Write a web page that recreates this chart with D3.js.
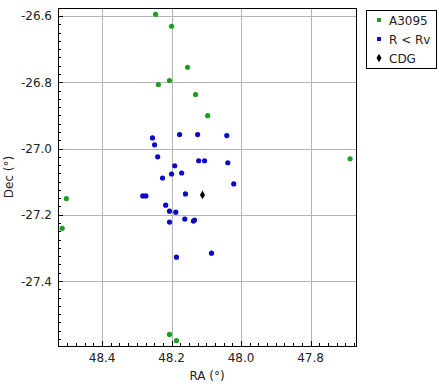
<!DOCTYPE html>
<html>
<head>
<meta charset="utf-8">
<script src="https://cdn.jsdelivr.net/npm/d3@7"></script>
<style>
  body { margin: 0; background: white; }
  text { font-family: "DejaVu Sans", sans-serif; }
</style>
</head>
<body>
<div id="chart"></div>
<script>
// A3095 members
var a3095RA  = [48.246, 48.200, 48.154, 48.238, 48.206, 48.131, 48.096, 48.503, 48.515, 48.206, 48.186, 47.686];
var a3095Dec = [-26.595, -26.631, -26.755, -26.807, -26.795, -26.837, -26.901, -27.151, -27.241, -27.561, -27.580, -27.031];

// galaxies inside virial radius
var rvRA  = [48.255, 48.249, 48.177, 48.125, 48.240, 48.122, 48.105, 48.191, 48.200, 48.171, 48.226, 48.160,
             48.283, 48.274, 48.041, 48.038, 48.021, 48.217, 48.206, 48.188, 48.206, 48.162, 48.137, 48.134,
             48.186, 48.085];
var rvDec = [-26.968, -26.989, -26.958, -26.958, -27.025, -27.037, -27.037, -27.052, -27.077, -27.074, -27.089, -27.137,
             -27.143, -27.143, -26.961, -27.043, -27.107, -27.171, -27.189, -27.192, -27.222, -27.213, -27.219, -27.216,
             -27.328, -27.316];

// central dominant galaxy
var cdgRA  = [48.111];
var cdgDec = [-27.140];

var xTicks = [48.4, 48.2, 48.0, 47.8];
var yTicks = [-26.6, -26.8, -27.0, -27.2, -27.4];
var seriesNames = ['A3095', 'R < Rv', 'CDG'];
var seriesColors = ['#1e9e1e', '#0a0ac8', '#000000'];

var svgWidth = 439, svgHeight = 386;
var plotLeft = 58, plotRight = 356, plotTop = 8, plotBottom = 346;

var svg = d3.select('#chart').append('svg')
    .attr('width', svgWidth)
    .attr('height', svgHeight)
    .style('background', 'white');

var x = d3.scaleLinear().domain([48.527, 47.669]).range([plotLeft, plotRight]);
var y = d3.scaleLinear().domain([-26.576, -27.596]).range([plotTop, plotBottom]);

//grid lines
svg.append('g').selectAll('line').data(xTicks).enter().append('line')
    .attr('x1', d => Math.round(x(d)) + 0.5).attr('x2', d => Math.round(x(d)) + 0.5)
    .attr('y1', plotTop).attr('y2', plotBottom)
    .attr('stroke', '#b4b4b4').attr('stroke-width', 1);
svg.append('g').selectAll('line').data(yTicks).enter().append('line')
    .attr('y1', d => Math.round(y(d)) + 0.5).attr('y2', d => Math.round(y(d)) + 0.5)
    .attr('x1', plotLeft).attr('x2', plotRight)
    .attr('stroke', '#b4b4b4').attr('stroke-width', 1);

//minor ticks, pointing into the plot
var xMinor = d3.range(0, 40).map(i => 48.5 - i * 0.025).filter(d => d < 48.527 && d > 47.669);
var yMinor = d3.range(0, 44).map(i => -26.575 - i * 0.025).filter(d => d <= -26.576 && d > -27.596);
svg.append('g').selectAll('line').data(xMinor).enter().append('line')
    .attr('x1', d => Math.round(x(d)) + 0.5).attr('x2', d => Math.round(x(d)) + 0.5)
    .attr('y1', plotBottom).attr('y2', plotBottom - 3)
    .attr('stroke', 'black');
svg.append('g').selectAll('line').data(yMinor).enter().append('line')
    .attr('y1', d => Math.round(y(d)) + 0.5).attr('y2', d => Math.round(y(d)) + 0.5)
    .attr('x1', plotLeft).attr('x2', plotLeft + 3)
    .attr('stroke', 'black');
svg.append('g').selectAll('line').data(xTicks).enter().append('line')
    .attr('x1', d => Math.round(x(d)) + 0.5).attr('x2', d => Math.round(x(d)) + 0.5)
    .attr('y1', plotBottom).attr('y2', plotBottom - 5)
    .attr('stroke', 'black');
svg.append('g').selectAll('line').data(yTicks).enter().append('line')
    .attr('y1', d => Math.round(y(d)) + 0.5).attr('y2', d => Math.round(y(d)) + 0.5)
    .attr('x1', plotLeft).attr('x2', plotLeft + 5)
    .attr('stroke', 'black');

//frame
svg.append('rect')
    .attr('x', plotLeft + 0.5).attr('y', plotTop + 0.5)
    .attr('width', plotRight - plotLeft).attr('height', plotBottom - plotTop)
    .attr('fill', 'none').attr('stroke', 'black').attr('stroke-width', 1);

//tick labels
svg.append('g').selectAll('text').data(xTicks).enter().append('text')
    .text(d => d.toFixed(1))
    .attr('x', d => x(d)).attr('y', 362)
    .attr('text-anchor', 'middle')
    .attr('font-size', '12px').attr('fill', '#222');
svg.append('g').selectAll('text').data(yTicks).enter().append('text')
    .text(d => d.toFixed(1))
    .attr('x', 52).attr('y', d => y(d) + 4.5)
    .attr('text-anchor', 'end')
    .attr('font-size', '12px').attr('fill', '#222');

//axis titles
svg.append('text')
    .text('RA (°)')
    .attr('x', (plotLeft + plotRight) / 2).attr('y', 380)
    .attr('text-anchor', 'middle')
    .attr('font-size', '12px').attr('fill', '#222');
svg.append('text')
    .text('Dec (°)')
    .attr('transform', 'translate(13,' + ((plotTop + plotBottom) / 2) + ') rotate(-90)')
    .attr('text-anchor', 'middle')
    .attr('font-size', '12px').attr('fill', '#222');

//points
var plot = svg.append('g');
plot.selectAll('circle.a').data(d3.zip(a3095RA, a3095Dec)).enter().append('circle')
    .attr('class', 'a')
    .attr('cx', d => x(d[0])).attr('cy', d => y(d[1]))
    .attr('r', 2.6).attr('fill', seriesColors[0]);
plot.selectAll('circle.b').data(d3.zip(rvRA, rvDec)).enter().append('circle')
    .attr('class', 'b')
    .attr('cx', d => x(d[0])).attr('cy', d => y(d[1]))
    .attr('r', 2.6).attr('fill', seriesColors[1]);
plot.selectAll('path.c').data(d3.zip(cdgRA, cdgDec)).enter().append('path')
    .attr('class', 'c')
    .attr('d', d3.symbol(d3.symbolDiamond, 22))
    .attr('transform', d => 'translate(' + x(d[0]) + ',' + y(d[1]) + ')')
    .attr('fill', seriesColors[2]);

//legend
var legend = svg.append('g');
legend.append('rect')
    .attr('x', 366.5).attr('y', 10.5)
    .attr('width', 70).attr('height', 58)
    .attr('fill', 'white').attr('stroke', 'black');
seriesNames.forEach(function(name, i) {
    var ly = 20 + i * 19;
    if (i < 2) {
        legend.append('rect')
            .attr('x', 377).attr('y', ly - 2)
            .attr('width', 4).attr('height', 4)
            .attr('fill', seriesColors[i]);
    } else {
        legend.append('path')
            .attr('d', d3.symbol(d3.symbolDiamond, 22))
            .attr('transform', 'translate(379,' + ly + ')')
            .attr('fill', seriesColors[i]);
    }
    legend.append('text')
        .text(name)
        .attr('x', 389).attr('y', ly + 4.5)
        .attr('font-size', '12px').attr('fill', '#222');
});
</script>
</body>
</html>
